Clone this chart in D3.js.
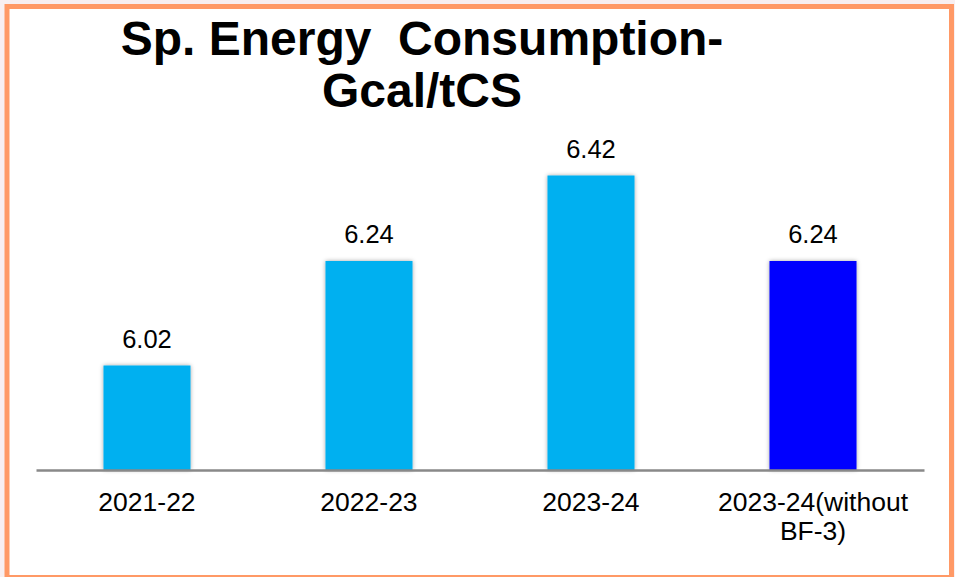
<!DOCTYPE html>
<html>
<head>
<meta charset="utf-8">
<script src="https://cdn.jsdelivr.net/npm/d3@7"></script>
<style>
  html, body { margin: 0; padding: 0; background: #f8eff1; }
  svg { display: block; }
  text { font-family: "Liberation Sans", Arial, sans-serif; }
</style>
</head>
<body>
<svg id="chart" width="955" height="577"></svg>
<script>
// Specific energy consumption, Gcal per tonne of crude steel
const categories = ["2021-22", "2022-23", "2023-24", "2023-24(without BF-3)"];
const categoryLines = [["2021-22"], ["2022-23"], ["2023-24"], ["2023-24(without", "BF-3)"]];
const values = [6.02, 6.24, 6.42, 6.24];
const valueLabels = ["6.02", "6.24", "6.42", "6.24"];
const barColors = ["#00b0f0", "#00b0f0", "#00b0f0", "#0000ff"];
const titleLines = ["Sp. Energy  Consumption-", "Gcal/tCS"];

const svg = d3.select("#chart");

// panel with orange frame
svg.append("rect")
  .attr("x", 7).attr("y", 6.5)
  .attr("width", 944.5).attr("height", 571)
  .attr("fill", "#ffffff")
  .attr("stroke", "#ff9966")
  .attr("stroke-width", 5);

const defs = svg.append("defs");
const shadow = defs.append("filter").attr("id", "barShadow")
  .attr("x", "-20%").attr("y", "-5%").attr("width", "140%").attr("height", "110%");
shadow.append("feDropShadow")
  .attr("dx", 0).attr("dy", 0).attr("stdDeviation", 2)
  .attr("flood-color", "#000").attr("flood-opacity", 0.35);

const x = d3.scaleBand()
  .domain(categories)
  .range([36, 924])
  .paddingInner(0.608)
  .paddingOuter(0.304);

const baseY = 470;
const y = d3.scaleLinear()
  .domain([5.8, 6.6])
  .range([baseY, baseY - 0.8 * 475]);

// bars
svg.append("g").selectAll("rect")
  .data(values)
  .join("rect")
  .attr("x", (d, i) => x(categories[i]))
  .attr("width", x.bandwidth())
  .attr("y", d => y(d))
  .attr("height", d => y(5.8) - y(d))
  .attr("fill", (d, i) => barColors[i])
  .attr("filter", "url(#barShadow)");

// category axis line and labels
const axis = d3.axisBottom(x).tickSize(0).tickFormat("");
const axisG = svg.append("g").attr("transform", `translate(0,${baseY})`).call(axis);
axisG.select(".domain").attr("stroke", "#898989").attr("stroke-width", 2.5);

const labelG = svg.append("g");
categories.forEach((c, i) => {
  const t = labelG.append("text")
    .attr("x", x(c) + x.bandwidth() / 2)
    .attr("y", 510.5)
    .attr("text-anchor", "middle")
    .attr("font-size", 26.5)
    .attr("fill", "#000");
  categoryLines[i].forEach((line, j) => {
    t.append("tspan")
      .attr("x", x(c) + x.bandwidth() / 2)
      .attr("dy", j === 0 ? 0 : 29)
      .text(line);
  });
});

// value labels
svg.append("g").selectAll("text")
  .data(values)
  .join("text")
  .attr("x", (d, i) => x(categories[i]) + x.bandwidth() / 2)
  .attr("y", d => y(d) - 18)
  .attr("text-anchor", "middle")
  .attr("font-size", 25.5)
  .attr("fill", "#000")
  .text((d, i) => valueLabels[i]);

// title
svg.append("g").selectAll("text")
  .data(titleLines)
  .join("text")
  .attr("x", 422)
  .attr("y", (d, i) => 55 + i * 52)
  .attr("text-anchor", "middle")
  .attr("font-size", 48)
  .attr("font-weight", "bold")
  .attr("fill", "#000")
  .style("white-space", "pre")
  .text(d => d);
</script>
</body>
</html>
